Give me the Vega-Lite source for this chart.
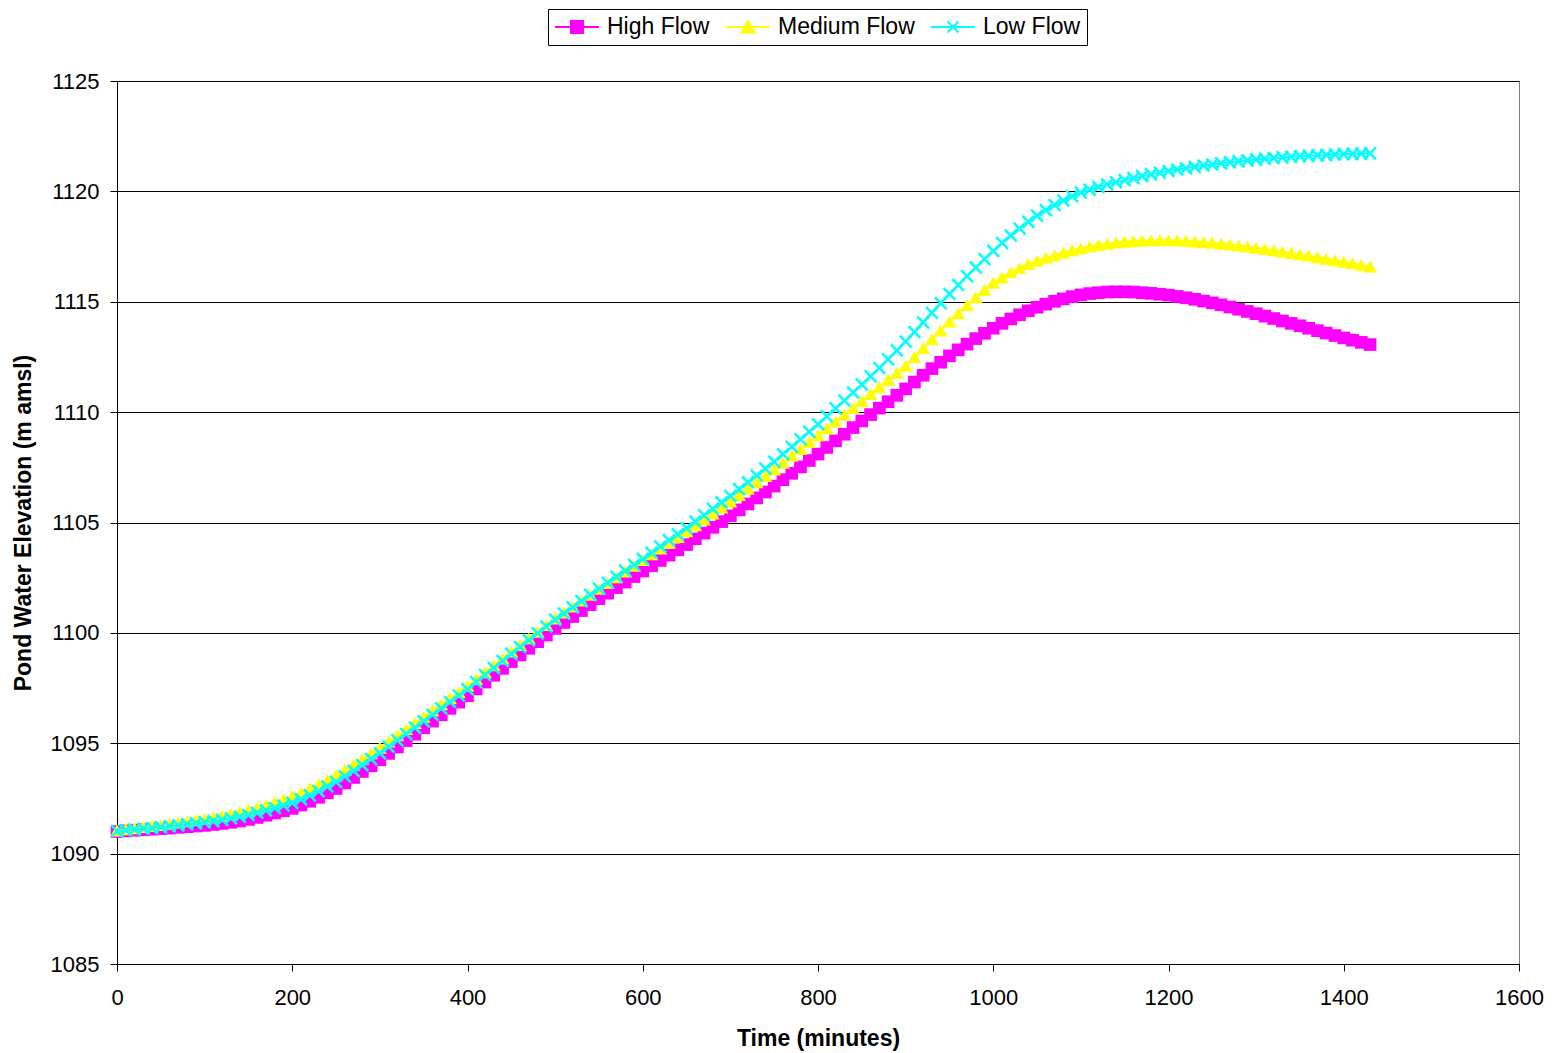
{
"$schema": "https://vega.github.io/schema/vega-lite/v6.json",
"width": 1402, "height": 883,
"autosize": {"type": "none"},
"padding": {"left": 117, "top": 81, "right": 37, "bottom": 89},
"background": "white",
"config": {
 "font": "Liberation Sans",
 "view": {"stroke": "#808080", "strokeWidth": 1},
 "axis": {"domainColor": "#000", "tickColor": "#000", "tickSize": 7, "labelFontSize": 22, "labelColor": "#000", "labelFont": "Liberation Sans", "titleFont": "Liberation Sans", "titleFontSize": 23, "titleFontWeight": "bold", "titleColor": "#000", "labelOverlap": false, "labelFlush": false, "format": "d"}
},
"data": {"values": [
{"t":0,"H":1091.00,"M":1091.05,"L":1091.02},
{"t":10,"H":1091.03,"M":1091.10,"L":1091.06},
{"t":20,"H":1091.06,"M":1091.15,"L":1091.09},
{"t":30,"H":1091.08,"M":1091.20,"L":1091.13},
{"t":40,"H":1091.11,"M":1091.25,"L":1091.16},
{"t":50,"H":1091.13,"M":1091.30,"L":1091.20},
{"t":60,"H":1091.16,"M":1091.35,"L":1091.24},
{"t":70,"H":1091.19,"M":1091.41,"L":1091.28},
{"t":80,"H":1091.22,"M":1091.47,"L":1091.33},
{"t":90,"H":1091.25,"M":1091.52,"L":1091.37},
{"t":100,"H":1091.28,"M":1091.58,"L":1091.42},
{"t":110,"H":1091.32,"M":1091.65,"L":1091.47},
{"t":120,"H":1091.37,"M":1091.72,"L":1091.53},
{"t":130,"H":1091.42,"M":1091.80,"L":1091.60},
{"t":140,"H":1091.48,"M":1091.89,"L":1091.67},
{"t":150,"H":1091.55,"M":1091.98,"L":1091.75},
{"t":160,"H":1091.64,"M":1092.08,"L":1091.85},
{"t":170,"H":1091.74,"M":1092.20,"L":1091.96},
{"t":180,"H":1091.84,"M":1092.32,"L":1092.07},
{"t":190,"H":1091.94,"M":1092.46,"L":1092.18},
{"t":200,"H":1092.05,"M":1092.60,"L":1092.30},
{"t":210,"H":1092.20,"M":1092.77,"L":1092.46},
{"t":220,"H":1092.37,"M":1092.95,"L":1092.64},
{"t":230,"H":1092.55,"M":1093.14,"L":1092.83},
{"t":240,"H":1092.75,"M":1093.34,"L":1093.04},
{"t":250,"H":1092.95,"M":1093.55,"L":1093.25},
{"t":260,"H":1093.20,"M":1093.79,"L":1093.50},
{"t":270,"H":1093.45,"M":1094.03,"L":1093.75},
{"t":280,"H":1093.72,"M":1094.28,"L":1094.01},
{"t":290,"H":1093.98,"M":1094.54,"L":1094.28},
{"t":300,"H":1094.25,"M":1094.80,"L":1094.55},
{"t":310,"H":1094.54,"M":1095.08,"L":1094.84},
{"t":320,"H":1094.83,"M":1095.36,"L":1095.13},
{"t":330,"H":1095.12,"M":1095.64,"L":1095.42},
{"t":340,"H":1095.41,"M":1095.92,"L":1095.71},
{"t":350,"H":1095.70,"M":1096.20,"L":1096.00},
{"t":360,"H":1096.00,"M":1096.48,"L":1096.29},
{"t":370,"H":1096.29,"M":1096.76,"L":1096.58},
{"t":380,"H":1096.58,"M":1097.04,"L":1096.87},
{"t":390,"H":1096.86,"M":1097.32,"L":1097.16},
{"t":400,"H":1097.15,"M":1097.60,"L":1097.45},
{"t":410,"H":1097.46,"M":1097.91,"L":1097.77},
{"t":420,"H":1097.77,"M":1098.22,"L":1098.09},
{"t":430,"H":1098.08,"M":1098.53,"L":1098.41},
{"t":440,"H":1098.39,"M":1098.84,"L":1098.73},
{"t":450,"H":1098.70,"M":1099.15,"L":1099.05},
{"t":460,"H":1099.00,"M":1099.45,"L":1099.36},
{"t":470,"H":1099.30,"M":1099.75,"L":1099.67},
{"t":480,"H":1099.60,"M":1100.05,"L":1099.98},
{"t":490,"H":1099.90,"M":1100.35,"L":1100.29},
{"t":500,"H":1100.20,"M":1100.65,"L":1100.60},
{"t":510,"H":1100.47,"M":1100.92,"L":1100.88},
{"t":520,"H":1100.74,"M":1101.19,"L":1101.16},
{"t":530,"H":1101.01,"M":1101.46,"L":1101.44},
{"t":540,"H":1101.28,"M":1101.73,"L":1101.72},
{"t":550,"H":1101.55,"M":1102.00,"L":1102.00},
{"t":560,"H":1101.80,"M":1102.26,"L":1102.27},
{"t":570,"H":1102.05,"M":1102.52,"L":1102.54},
{"t":580,"H":1102.30,"M":1102.78,"L":1102.81},
{"t":590,"H":1102.55,"M":1103.04,"L":1103.08},
{"t":600,"H":1102.80,"M":1103.30,"L":1103.35},
{"t":610,"H":1103.04,"M":1103.56,"L":1103.63},
{"t":620,"H":1103.28,"M":1103.82,"L":1103.91},
{"t":630,"H":1103.52,"M":1104.08,"L":1104.19},
{"t":640,"H":1103.76,"M":1104.34,"L":1104.47},
{"t":650,"H":1104.00,"M":1104.60,"L":1104.75},
{"t":660,"H":1104.26,"M":1104.87,"L":1105.04},
{"t":670,"H":1104.52,"M":1105.14,"L":1105.33},
{"t":680,"H":1104.78,"M":1105.41,"L":1105.62},
{"t":690,"H":1105.04,"M":1105.68,"L":1105.91},
{"t":700,"H":1105.30,"M":1105.95,"L":1106.20},
{"t":710,"H":1105.57,"M":1106.24,"L":1106.51},
{"t":720,"H":1105.84,"M":1106.53,"L":1106.82},
{"t":730,"H":1106.11,"M":1106.82,"L":1107.13},
{"t":740,"H":1106.38,"M":1107.11,"L":1107.44},
{"t":750,"H":1106.65,"M":1107.40,"L":1107.75},
{"t":760,"H":1106.94,"M":1107.71,"L":1108.09},
{"t":770,"H":1107.23,"M":1108.02,"L":1108.43},
{"t":780,"H":1107.52,"M":1108.33,"L":1108.77},
{"t":790,"H":1107.81,"M":1108.64,"L":1109.11},
{"t":800,"H":1108.10,"M":1108.95,"L":1109.45},
{"t":810,"H":1108.40,"M":1109.26,"L":1109.81},
{"t":820,"H":1108.70,"M":1109.57,"L":1110.17},
{"t":830,"H":1109.00,"M":1109.88,"L":1110.53},
{"t":840,"H":1109.30,"M":1110.19,"L":1110.89},
{"t":850,"H":1109.60,"M":1110.50,"L":1111.25},
{"t":860,"H":1109.89,"M":1110.82,"L":1111.62},
{"t":870,"H":1110.18,"M":1111.14,"L":1112.00},
{"t":880,"H":1110.47,"M":1111.46,"L":1112.39},
{"t":890,"H":1110.76,"M":1111.78,"L":1112.79},
{"t":900,"H":1111.05,"M":1112.10,"L":1113.20},
{"t":910,"H":1111.36,"M":1112.50,"L":1113.63},
{"t":920,"H":1111.67,"M":1112.90,"L":1114.06},
{"t":930,"H":1111.97,"M":1113.30,"L":1114.50},
{"t":940,"H":1112.26,"M":1113.70,"L":1114.93},
{"t":950,"H":1112.55,"M":1114.10,"L":1115.35},
{"t":960,"H":1112.82,"M":1114.48,"L":1115.76},
{"t":970,"H":1113.08,"M":1114.85,"L":1116.16},
{"t":980,"H":1113.33,"M":1115.20,"L":1116.55},
{"t":990,"H":1113.57,"M":1115.54,"L":1116.93},
{"t":1000,"H":1113.80,"M":1115.86,"L":1117.30},
{"t":1010,"H":1114.02,"M":1116.10,"L":1117.66},
{"t":1020,"H":1114.22,"M":1116.33,"L":1118.00},
{"t":1030,"H":1114.41,"M":1116.53,"L":1118.32},
{"t":1040,"H":1114.59,"M":1116.71,"L":1118.62},
{"t":1050,"H":1114.75,"M":1116.86,"L":1118.90},
{"t":1060,"H":1114.89,"M":1116.99,"L":1119.15},
{"t":1070,"H":1115.02,"M":1117.11,"L":1119.38},
{"t":1080,"H":1115.13,"M":1117.23,"L":1119.59},
{"t":1090,"H":1115.23,"M":1117.33,"L":1119.78},
{"t":1100,"H":1115.31,"M":1117.42,"L":1119.95},
{"t":1110,"H":1115.37,"M":1117.50,"L":1120.08},
{"t":1120,"H":1115.41,"M":1117.57,"L":1120.20},
{"t":1130,"H":1115.44,"M":1117.63,"L":1120.31},
{"t":1140,"H":1115.45,"M":1117.68,"L":1120.41},
{"t":1150,"H":1115.45,"M":1117.72,"L":1120.51},
{"t":1160,"H":1115.44,"M":1117.75,"L":1120.60},
{"t":1170,"H":1115.41,"M":1117.77,"L":1120.69},
{"t":1180,"H":1115.38,"M":1117.78,"L":1120.77},
{"t":1190,"H":1115.34,"M":1117.79,"L":1120.85},
{"t":1200,"H":1115.30,"M":1117.79,"L":1120.92},
{"t":1210,"H":1115.24,"M":1117.78,"L":1120.99},
{"t":1220,"H":1115.18,"M":1117.76,"L":1121.05},
{"t":1230,"H":1115.11,"M":1117.73,"L":1121.11},
{"t":1240,"H":1115.03,"M":1117.70,"L":1121.17},
{"t":1250,"H":1114.95,"M":1117.67,"L":1121.22},
{"t":1260,"H":1114.86,"M":1117.63,"L":1121.27},
{"t":1270,"H":1114.76,"M":1117.59,"L":1121.32},
{"t":1280,"H":1114.66,"M":1117.55,"L":1121.36},
{"t":1290,"H":1114.56,"M":1117.50,"L":1121.40},
{"t":1300,"H":1114.46,"M":1117.45,"L":1121.44},
{"t":1310,"H":1114.35,"M":1117.39,"L":1121.48},
{"t":1320,"H":1114.24,"M":1117.33,"L":1121.51},
{"t":1330,"H":1114.13,"M":1117.27,"L":1121.54},
{"t":1340,"H":1114.02,"M":1117.21,"L":1121.57},
{"t":1350,"H":1113.91,"M":1117.15,"L":1121.59},
{"t":1360,"H":1113.80,"M":1117.09,"L":1121.61},
{"t":1370,"H":1113.69,"M":1117.02,"L":1121.63},
{"t":1380,"H":1113.58,"M":1116.95,"L":1121.65},
{"t":1390,"H":1113.47,"M":1116.88,"L":1121.67},
{"t":1400,"H":1113.36,"M":1116.81,"L":1121.68},
{"t":1410,"H":1113.26,"M":1116.74,"L":1121.70},
{"t":1420,"H":1113.16,"M":1116.67,"L":1121.71},
{"t":1430,"H":1113.06,"M":1116.60,"L":1121.72}
]},
"encoding": {
 "x": {"field": "t", "type": "quantitative", "scale": {"domain": [0, 1600], "nice": false}, "axis": {"values": [0,200,400,600,800,1000,1200,1400,1600], "title": "Time (minutes)", "grid": false, "labelPadding": 16, "titlePadding": 19}}
},
"layer": [
 {"mark": {"type": "line", "strokeWidth": 2},
  "encoding": {
   "y": {"field": "H", "type": "quantitative", "scale": {"domain": [1085, 1125], "nice": false, "zero": false}, "title": "Pond Water Elevation (m amsl)", "axis": {"values": [1085,1090,1095,1100,1105,1110,1115,1120,1125], "grid": true, "gridColor": "#000", "gridWidth": 1, "labelPadding": 11, "titlePadding": 15}},
   "color": {"datum": "High Flow", "type": "nominal", "scale": {"domain": ["High Flow", "Medium Flow", "Low Flow"], "range": ["#FF00FF", "#FFFF00", "#00FFFF"]},
    "legend": {"orient": "none", "legendX": 431, "legendY": -72, "direction": "horizontal", "title": null, "symbolSize": 484, "symbolOffset": 11, "symbolStrokeWidth": 2, "labelFontSize": 23, "labelFont": "Liberation Sans", "labelColor": "#000", "labelOffset": 18, "columnPadding": 12, "padding": 6, "strokeColor": "#000", "fillColor": "#fff",
     "encode": {"symbols": {"update": {
      "shape": {"signal": "datum.value === 'High Flow' ? 'M-2,0H2M-0.55,-0.55H0.55V0.55H-0.55Z' : datum.value === 'Medium Flow' ? 'M-2,0H2M0,-0.55L0.6,0.5H-0.6Z' : 'M-2,0H2M-0.5,-0.5L0.5,0.5M-0.5,0.5L0.5,-0.5'"},
      "fill": {"signal": "scale('color', datum.value)"},
      "stroke": {"signal": "scale('color', datum.value)"},
      "strokeWidth": {"value": 2},
      "opacity": {"value": 1}}}}}}
  }},
 {"mark": {"type": "point", "shape": "square", "filled": true, "size": 160, "color": "#FF00FF", "opacity": 1},
  "encoding": {"y": {"field": "H", "type": "quantitative", "title": "Pond Water Elevation (m amsl)"}}},
 {"mark": {"type": "line", "strokeWidth": 2},
  "encoding": {"y": {"field": "M", "type": "quantitative", "title": "Pond Water Elevation (m amsl)"}, "color": {"datum": "Medium Flow", "type": "nominal"}}},
 {"mark": {"type": "point", "shape": "triangle-up", "filled": true, "size": 190, "color": "#FFFF00", "opacity": 1},
  "encoding": {"y": {"field": "M", "type": "quantitative", "title": "Pond Water Elevation (m amsl)"}}},
 {"mark": {"type": "line", "strokeWidth": 2},
  "encoding": {"y": {"field": "L", "type": "quantitative", "title": "Pond Water Elevation (m amsl)"}, "color": {"datum": "Low Flow", "type": "nominal"}}},
 {"mark": {"type": "point", "shape": "M-1,-1L1,1M-1,1L1,-1", "filled": false, "size": 140, "stroke": "#00FFFF", "strokeWidth": 2.5, "opacity": 1},
  "encoding": {"y": {"field": "L", "type": "quantitative", "title": "Pond Water Elevation (m amsl)"}}}
]
}
